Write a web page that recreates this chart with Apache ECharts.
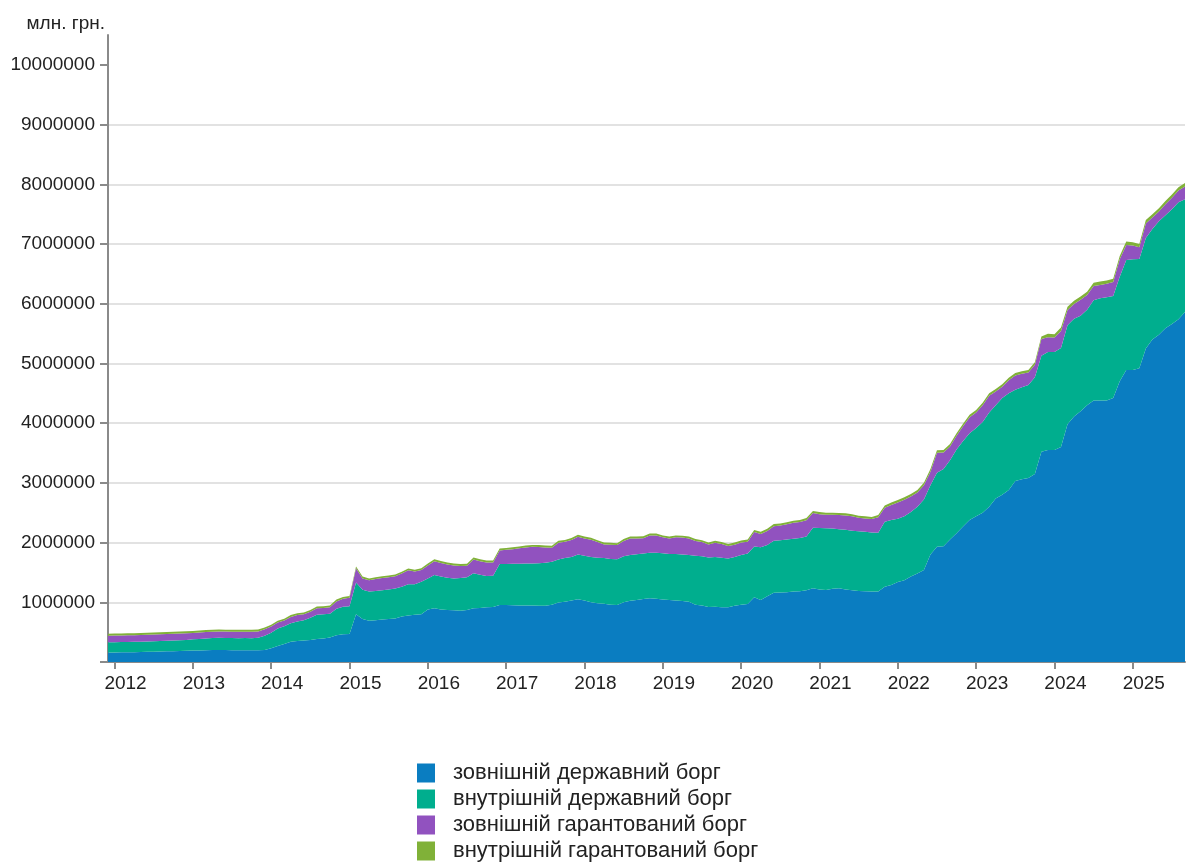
<!DOCTYPE html>
<html style="height: 100%">
<head>
<meta charset="utf-8">
<script src="https://cdn.jsdelivr.net/npm/echarts@6/dist/echarts.min.js"></script>
</head>
<body style="height: 100%; margin: 0; background: #fff">
<div id="container" style="width: 1188px; height: 865px;"></div>
<script type="text/javascript">
// monthly points, first one is Dec 2011, млн. грн.
var firstMonth = [2011, 12];
var yTicks = [0, 1000000, 2000000, 3000000, 4000000, 5000000, 6000000, 7000000, 8000000, 9000000, 10000000];

var seriesNames = [
	'зовнішній державний борг',
	'внутрішній державний борг',
	'зовнішній гарантований борг',
	'внутрішній гарантований борг'
];

var extState = [
160000,161000,162000,163000,165000,167000,170000,173000,176000,179000,182000,185000,188000,
191000,194000,197000,199000,200000,199000,198000,197000,197000,196000,197000,200000,
230000,268000,300000,340000,350000,360000,370000,385000,395000,410000,450000,465000,
470000,800000,720000,690000,700000,710000,720000,730000,760000,780000,790000,800000,
880000,900000,880000,870000,865000,860000,870000,900000,905000,915000,920000,955000,
955000,950000,948000,945000,945000,944000,940000,960000,995000,1010000,1030000,1050000,
1030000,1000000,985000,975000,960000,955000,1000000,1027000,1040000,1055000,1066000,1060000,
1045000,1040000,1030000,1020000,1010000,960000,945000,920000,925000,918000,916000,940000,
960000,970000,1085000,1040000,1100000,1160000,1165000,1170000,1180000,1185000,1200000,1234000,
1215000,1206000,1225000,1234000,1215000,1200000,1190000,1185000,1180000,1180000,1260000,1290000,
1340000,1370000,1430000,1480000,1540000,1800000,1930000,1940000,2050000,2155000,2270000,2380000,
2440000,2500000,2600000,2740000,2800000,2880000,3030000,3060000,3080000,3150000,3520000,3550000,
3550000,3600000,3980000,4110000,4200000,4300000,4380000,4380000,4380000,4420000,4700000,4890000,
4890000,4920000,5250000,5400000,5480000,5590000,5660000,5740000,5860000
];

var intState = [
170000,170000,171000,173000,173000,174000,174000,175000,175000,176000,177000,178000,179000,
189000,193000,198000,201000,205000,203000,202000,201000,203000,202000,208000,238000,
260000,292000,300000,308000,330000,340000,370000,405000,405000,400000,440000,460000,
465000,530000,490000,490000,490000,490000,495000,500000,500000,520000,510000,545000,
520000,555000,550000,540000,535000,545000,550000,585000,555000,525000,525000,685000,
685000,695000,697000,703000,705000,708000,720000,720000,720000,730000,730000,750000,
750000,760000,760000,765000,765000,765000,770000,763000,765000,760000,764000,770000,
775000,770000,780000,780000,780000,820000,825000,830000,835000,827000,819000,820000,
830000,845000,850000,880000,860000,870000,875000,880000,885000,890000,900000,1016000,
1030000,1034000,1010000,991000,1000000,1000000,1000000,995000,990000,985000,1090000,1090000,
1060000,1070000,1080000,1120000,1180000,1160000,1240000,1290000,1330000,1405000,1430000,1450000,
1480000,1520000,1580000,1560000,1620000,1620000,1530000,1540000,1560000,1620000,1610000,1640000,
1640000,1660000,1660000,1640000,1600000,1600000,1680000,1710000,1730000,1710000,1750000,1840000,
1855000,1830000,1850000,1850000,1900000,1890000,1920000,1960000,1890000
];

var extGuar = [
110000,112000,112000,111000,112000,113000,113000,114000,114000,115000,116000,116000,115000,
107000,107000,107000,107000,107000,107000,107000,107000,107000,107000,107000,110000,
105000,100000,95000,107000,105000,100000,100000,110000,105000,105000,125000,135000,
140000,240000,190000,190000,200000,205000,205000,205000,220000,235000,215000,195000,
218000,233000,228000,223000,218000,203000,193000,233000,228000,228000,223000,228000,
238000,243000,258000,270000,278000,274000,258000,233000,283000,273000,283000,298000,
288000,288000,263000,228000,238000,238000,258000,278000,263000,258000,288000,288000,
268000,258000,278000,283000,278000,248000,238000,218000,238000,233000,208000,205000,
210000,200000,240000,225000,235000,245000,245000,255000,265000,270000,275000,245000,
230000,225000,230000,235000,240000,240000,225000,225000,225000,260000,235000,248000,
273000,278000,263000,238000,238000,228000,333000,278000,228000,228000,248000,268000,
258000,278000,278000,228000,188000,218000,238000,228000,208000,208000,278000,250000,
245000,285000,255000,245000,265000,245000,235000,225000,225000,235000,295000,255000,
230000,195000,245000,195000,165000,185000,195000,195000,215000
];

var intGuar = [
33000,33000,33000,33000,33000,33000,33000,33000,33000,33000,33000,33000,33000,
33000,33000,33000,33000,33000,33000,33000,33000,33000,33000,33000,30000,
30000,30000,30000,30000,30000,30000,30000,30000,30000,30000,30000,30000,
30000,30000,30000,30000,30000,30000,30000,30000,30000,30000,30000,32000,
32000,32000,32000,32000,32000,32000,32000,32000,32000,32000,32000,32000,
32000,32000,32000,32000,32000,32000,32000,32000,32000,32000,32000,32000,
32000,32000,32000,32000,32000,32000,32000,32000,32000,32000,32000,32000,
32000,32000,32000,32000,32000,32000,32000,32000,32000,32000,32000,35000,
35000,35000,35000,35000,35000,35000,35000,35000,35000,35000,35000,35000,
35000,35000,35000,35000,35000,35000,35000,35000,35000,35000,35000,42000,
42000,42000,42000,42000,42000,42000,42000,42000,42000,42000,42000,42000,
42000,42000,42000,42000,42000,42000,42000,42000,42000,42000,42000,55000,
55000,55000,55000,55000,55000,55000,55000,55000,55000,55000,55000,55000,
55000,55000,55000,55000,55000,55000,55000,55000,55000
];

var colors = ['#0a7dc1', '#00ae8e', '#9152bf', '#80b138'];
var FONT = '"Liberation Sans", Arial, sans-serif';

var dom = document.getElementById('container');
var myChart = echarts.init(dom, null, {renderer: 'canvas'});

// month categories "YYYY-MM"
var months = extState.map(function (v, i) {
	var m = firstMonth[1] - 1 + i;
	var y = firstMonth[0] + Math.floor(m / 12);
	var mm = (m % 12) + 1;
	return y + '-' + (mm < 10 ? '0' + mm : mm);
});

function isJanuary(index, value) {
	return /-01$/.test(value);
}

var series = [extState, intState, extGuar, intGuar].map(function (values, k) {
	return {
		name: seriesNames[k],
		type: 'line',
		stack: 'debt',
		symbol: 'none',
		color: colors[k],
		lineStyle: {width: 0},
		areaStyle: {color: colors[k], opacity: 1},
		emphasis: {disabled: true},
		data: values
	};
});

var option = {
	animation: false,
	textStyle: {fontFamily: FONT},
	grid: {left: 108, right: 3, top: 35, bottom: 203},
	xAxis: {
		type: 'category',
		data: months,
		boundaryGap: false,
		axisLine: {lineStyle: {color: '#8a8a8a', width: 2}},
		axisTick: {show: true, interval: isJanuary, length: 7, lineStyle: {color: '#8a8a8a', width: 2}},
		axisLabel: {
			interval: isJanuary,
			formatter: function (v) { return v.slice(0, 4); },
			color: '#222',
			fontSize: 19,
			fontFamily: FONT,
			margin: 12,
			padding: [0, 0, 0, 22]
		},
		splitLine: {show: false}
	},
	yAxis: {
		type: 'value',
		min: 0,
		max: 10500000,
		interval: 1000000,
		name: 'млн. грн.',
		nameLocation: 'end',
		nameGap: 2,
		nameTextStyle: {color: '#222', fontSize: 19, fontFamily: FONT, align: 'right', verticalAlign: 'bottom', padding: [0, 3, 0, 0]},
		axisLine: {show: true, lineStyle: {color: '#8a8a8a', width: 2}},
		axisTick: {show: true, customValues: yTicks, length: 8, lineStyle: {color: '#8a8a8a', width: 2}},
		axisLabel: {
			customValues: yTicks.slice(1),
			formatter: function (v) { return String(v); },
			color: '#222',
			fontSize: 19,
			fontFamily: FONT,
			margin: 13
		},
		splitLine: {show: true, showMinLine: false, showMaxLine: false, lineStyle: {color: '#e2e2e2', width: 2}}
	},
	legend: {
		orient: 'vertical',
		left: 412,
		top: 757,
		height: 200,
		icon: 'rect',
		itemWidth: 18,
		itemHeight: 19,
		itemGap: 4,
		selectedMode: false,
		textStyle: {color: '#222', fontSize: 22, fontFamily: FONT, lineHeight: 19, padding: [0, 0, 0, 13]},
		data: seriesNames
	},
	series: series
};

myChart.setOption(option);
</script>
</body>
</html>
